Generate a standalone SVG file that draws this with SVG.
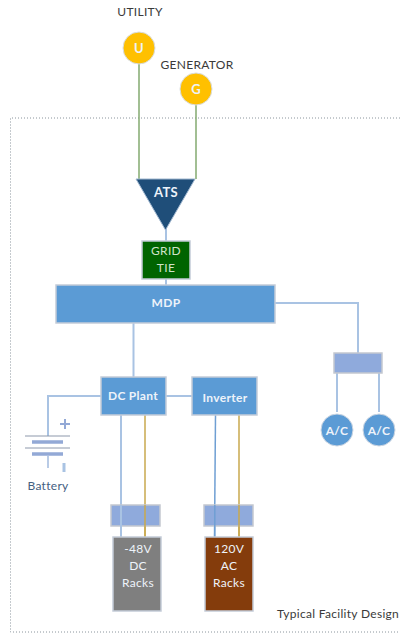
<svg xmlns="http://www.w3.org/2000/svg" width="400" height="633" viewBox="0 0 400 633">
<defs><style>
text{font-family:Lato,"Liberation Sans",sans-serif;font-size:12px;text-anchor:middle;letter-spacing:.3px}
.w{fill:#eef3fa}
.k{fill:#3a3a3a}
.box{stroke:#c4ccd8;stroke-width:1.5}
.blue{fill:#5b9bd5}
.peri{fill:#8faadc;stroke:#c4c8d0;stroke-width:1.5}
.lb{fill:none;stroke:#a9c3e3;stroke-width:2}
.g{fill:none;stroke:#84ab70;stroke-width:1.5}
.o{fill:none;stroke:#c9a94e;stroke-width:1.5}
.m{stroke:#6f9fd3;stroke-width:1.5;fill:none}
</style></defs>
<rect width="400" height="633" fill="#fff"/>
<path d="M400 118H10.500V632H400" fill="none" stroke="#8a949c" stroke-width="1" stroke-dasharray="1 2"/>
<g id="connectors">
<path class="g" d="M139 60V179M196 100V179"/>
<path class="lb" d="M166 228V242M166 278V285M133.500 322V377"/>
<path class="lb" d="M275 303H358V353M337 373V412M379 373V412"/>
<path class="lb" d="M101 396H48V436M166 396H192"/>
<path class="lb" d="M121 415V537"/>
<path class="o" d="M145 415V537"/>
<path class="m" d="M215.500 415L214.500 537"/>
<path class="o" d="M239 415V537"/>
</g>
<g id="battery">
<path d="M25 436H70M25 448H70" stroke="#8d98ab" stroke-width="1" fill="none"/>
<path d="M32 442H63M32 454H63" stroke="#93a9d6" stroke-width="3.500" fill="none"/>
<path d="M48 456V468" stroke="#b9cbe6" stroke-width="2" fill="none"/>
<path d="M60 424H70M65 419V429" stroke="#93a9d6" stroke-width="2" fill="none"/>
<path d="M64 463V472" stroke="#a9c3e3" stroke-width="3" fill="none"/>
<text x="48" y="490" fill="#44607f">Battery</text>
</g>
<g id="utility"><text class="k" x="140" y="16">UTILITY</text><circle cx="139" cy="48" r="16" fill="#ffc000" stroke="#d8dde2"/><text class="w" x="139" y="53" font-weight="700" style="font-size:13px">U</text></g>
<g id="generator"><text class="k" x="197" y="69">GENERATOR</text><circle cx="196" cy="89" r="16" fill="#ffc000" stroke="#d8dde2"/><text class="w" x="196" y="94" font-weight="700" style="font-size:13px">G</text></g>
<g id="ats"><path d="M136 179H195L165.500 230Z" fill="#1f4e79" stroke="#9fb6cf"/><text class="w" x="166" y="197" font-weight="700" style="font-size:13px">ATS</text></g>
<g id="gridtie"><rect class="box" x="142" y="241" width="48" height="38" fill="#006400"/><text fill="#cfe3c8" x="166" y="255">GRID</text><text fill="#cfe3c8" x="166" y="272">TIE</text></g>
<g id="mdp"><rect class="box blue" x="56" y="285" width="219" height="38"/><text class="w" x="166" y="307" font-weight="700">MDP</text></g>
<g id="dcplant"><rect class="box blue" x="101" y="377" width="65" height="38"/><text class="w" x="133" y="400" font-weight="700">DC Plant</text></g>
<g id="inverter"><rect class="box blue" x="192" y="377" width="65" height="38"/><text class="w" x="225" y="402" font-weight="700">Inverter</text></g>
<g id="acpanel"><rect class="peri" x="334" y="353" width="48" height="20"/></g>
<g id="ac1"><circle cx="337" cy="430" r="16" class="blue" stroke="#ccd6e2"/><text class="w" x="337" y="435" font-weight="700">A/C</text></g>
<g id="ac2"><circle cx="379" cy="430" r="16" class="blue" stroke="#ccd6e2"/><text class="w" x="379" y="435" font-weight="700">A/C</text></g>
<g id="dcpanel"><rect class="peri" x="111" y="505" width="49" height="21"/></g>
<g id="acpanel2"><rect class="peri" x="204" y="505" width="49" height="21"/></g>
<path class="lb" d="M121 505V537"/><path class="o" d="M145 505V537"/><path class="m" d="M214.800 505V537"/><path class="o" d="M239 505V537"/>
<g id="dcracks"><rect class="box" x="113" y="537" width="48" height="74" fill="#7f7f7f"/><text class="w" x="138" y="553">-48V</text><text class="w" x="138" y="570">DC</text><text class="w" x="138" y="587">Racks</text></g>
<g id="acracks"><rect class="box" x="205" y="537" width="48" height="74" fill="#843c0c"/><text class="w" x="229" y="553">120V</text><text class="w" x="229" y="570">AC</text><text class="w" x="229" y="587">Racks</text></g>
<text class="k" x="338" y="618">Typical Facility Design</text>
</svg>
